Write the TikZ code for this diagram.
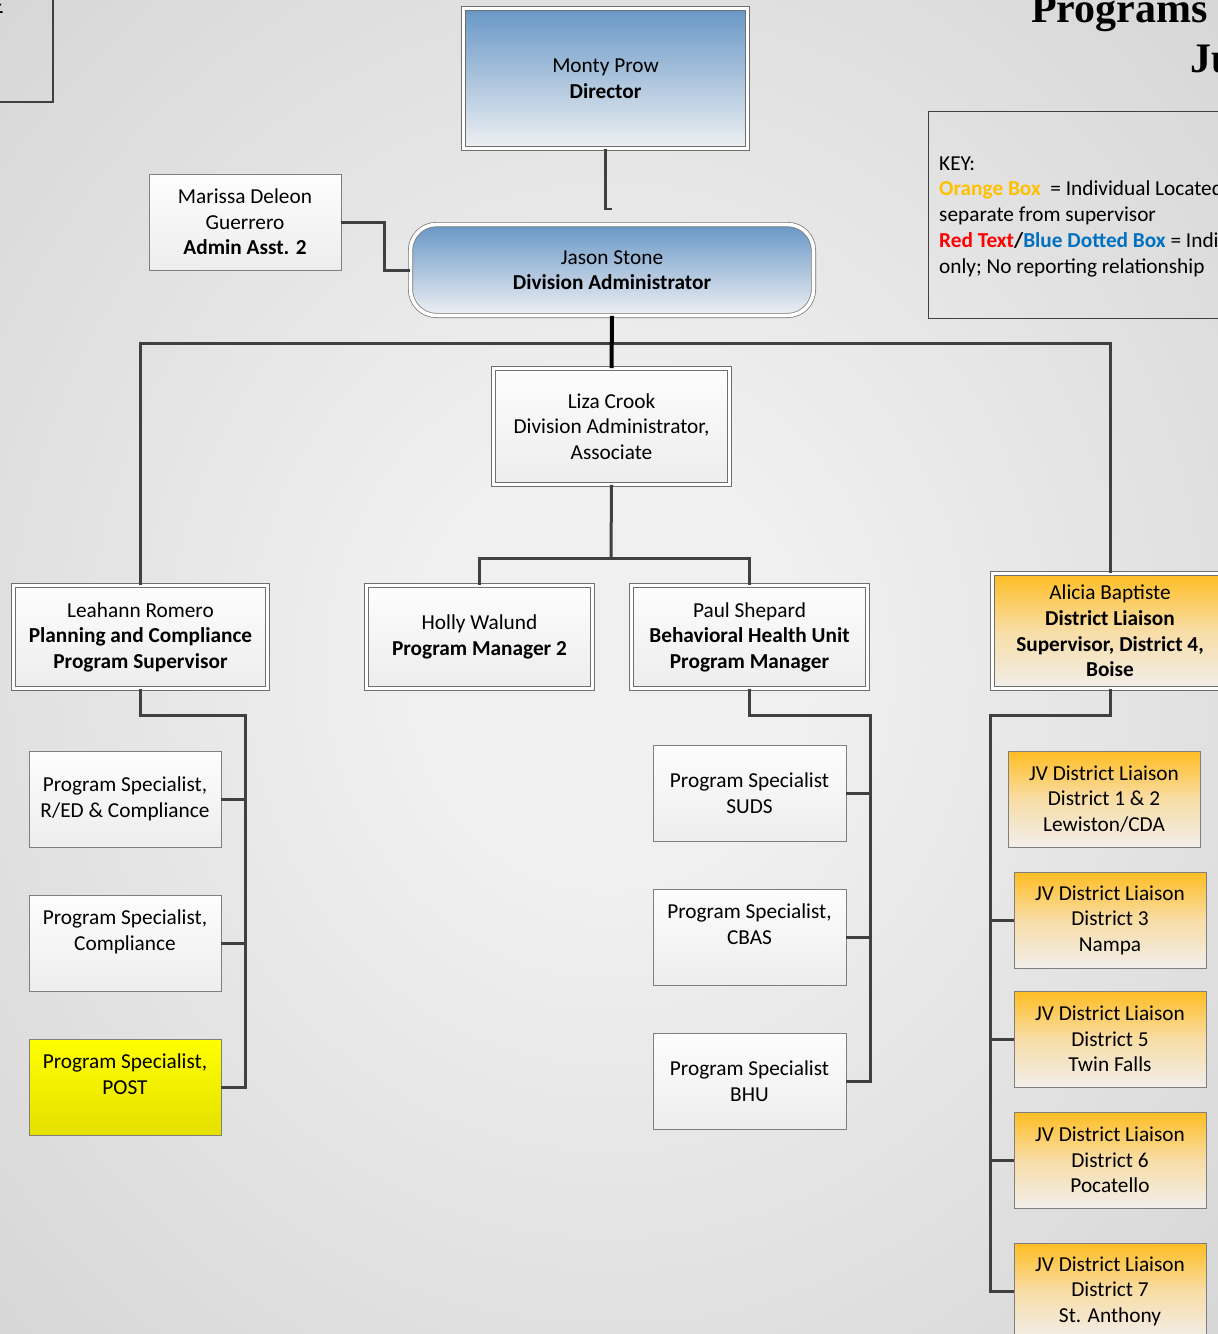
\documentclass[tikz,border=0pt]{standalone}
\usepackage{fontspec}
\setmainfont{Carlito}
\newfontfamily\titlefont{Liberation Serif}
\definecolor{bgin}{HTML}{F0F0F0}
\definecolor{bgout}{HTML}{C9C9C9}
\definecolor{linegray}{HTML}{404040}
\definecolor{boxline}{HTML}{7F7F7F}
\definecolor{framegray}{HTML}{6F6F6F}
\definecolor{bluetop}{HTML}{6897C6}
\definecolor{bluebot}{HTML}{EEF0F3}
\definecolor{whitetop}{HTML}{FDFDFD}
\definecolor{whitebot}{HTML}{EDEDED}
\definecolor{orangetop}{HTML}{FFBD22}
\definecolor{orangemid}{HTML}{F8DDA6}
\definecolor{orangebot}{HTML}{F1EEEA}
\definecolor{yellowtop}{HTML}{FFFF00}
\definecolor{yellowbot}{HTML}{E5E000}
\definecolor{keyorange}{HTML}{FFC000}
\definecolor{keyred}{HTML}{FF0000}
\definecolor{keyblue}{HTML}{0070C0}
\pgfdeclareradialshading{pagebg}{\pgfpoint{0bp}{0bp}}{color(0bp)=(bgin); color(8bp)=(bgin); color(50bp)=(bgout)}
\tikzset{
  txt/.style={font=\fontsize{21.3}{25.6}\selectfont, align=center, inner sep=0pt},
  dbl/.style={txt, draw=framegray, line width=0.7pt, double=white, double distance=3.6pt},
  bluebox/.style={dbl, top color=bluetop, bottom color=bluebot},
  framebox/.style={dbl, top color=whitetop, bottom color=whitebot},
  orangeframe/.style={dbl, top color=orangetop, bottom color=orangebot, middle color=orangemid},
  plainbox/.style={txt, draw=boxline, line width=0.9pt, top color=whitetop, bottom color=whitebot},
  orangebox/.style={txt, draw=boxline, line width=0.9pt, top color=orangetop, bottom color=orangebot, middle color=orangemid},
  yellowbox/.style={txt, draw=boxline, line width=0.9pt, top color=yellowtop, bottom color=yellowbot},
  childsize/.style={minimum width=192pt, minimum height=96pt},
  conn/.style={draw=linegray, line width=3pt},
}
\begin{document}
\begin{tikzpicture}[x=1pt, y=-1pt]
  \useasboundingbox (0,0) rectangle (1218,1334);
  \shade[shading=pagebg] (0,0) rectangle (1218,1334);
  \begin{scope}
    \clip (0,0) rectangle (1218,1334);

    % page heading and side frame, cut by the page edge
    \draw[linegray, line width=1.5pt] (-5,-5) rectangle (53,102);
    \node[anchor=base east, inner sep=0pt, font=\fontsize{26}{30}\selectfont] (cut) at (4,13) {E};
    \node[anchor=base east, inner sep=0pt, font=\titlefont\bfseries\fontsize{42}{50}\selectfont] (title1) at (1208,22) {Programs};
    \node[anchor=base west, inner sep=0pt, font=\titlefont\bfseries\fontsize{42}{50}\selectfont] (title2) at (1190,72) {Ju};

    % legend
    \draw[draw=linegray, line width=1pt] (928,111) rectangle (1240,318);
    \node[anchor=base west, inner sep=0pt, align=left, font=\fontsize{21.3}{25.7}\selectfont] (key) at (939,273)
      {KEY:\\
       {\color{keyorange}\bfseries Orange Box}\ \ = Individual Located\\
       separate from supervisor\\
       {\color{keyred}\bfseries Red Text}{\bfseries /}{\color{keyblue}\bfseries Blue Dotted Box} = Individual\\
       only; No reporting relationship};

    % leadership
    \node[bluebox, minimum width=284pt, minimum height=140pt] (dir) at (605.5,78.5)
      {Monty Prow\\\textbf{Director}};
    \node[bluebox, rounded corners=26pt, minimum width=403pt, minimum height=91pt] (jas) at (612,270)
      {Jason Stone\\\textbf{Division Administrator}};
    \node[plainbox, minimum width=192pt, minimum height=96pt] (mar) at (245,222)
      {Marissa Deleon\\Guerrero\\\textbf{Admin Asst. 2}};
    \node[framebox, minimum width=236pt, minimum height=116pt] (liz) at (611.5,426.5)
      {Liza Crook\\Division Administrator,\\Associate};

    % managers
    \node[framebox, minimum width=254pt, minimum height=103pt] (lea) at (140.5,637)
      {Leahann Romero\\\textbf{Planning and Compliance}\\\textbf{Program Supervisor}};
    \node[framebox, minimum width=226pt, minimum height=103pt] (hol) at (479.5,637)
      {Holly Walund\\\textbf{Program Manager 2}};
    \node[framebox, minimum width=236pt, minimum height=103pt] (pau) at (749.5,637)
      {Paul Shepard\\\textbf{Behavioral Health Unit}\\\textbf{Program Manager}};
    \node[orangeframe, minimum width=235pt, minimum height=115pt] (ali) at (1110,631)
      {Alicia Baptiste\\\textbf{District Liaison}\\\textbf{Supervisor, District 4,}\\\textbf{Boise}};

    % planning and compliance staff
    \node[plainbox, childsize] (red) at (125,799) {Program Specialist,\\R/ED \& Compliance};
    \node[plainbox, childsize] (cmp) at (125,943) {Program Specialist,\\Compliance\\\mbox{}};
    \node[yellowbox, childsize] (post) at (125,1087) {Program Specialist,\\POST\\\mbox{}};

    % behavioral health staff
    \node[plainbox, childsize, minimum width=193pt] (suds) at (749.5,793) {Program Specialist\\SUDS};
    \node[plainbox, childsize, minimum width=193pt] (cbas) at (749.5,937) {Program Specialist,\\CBAS\\\mbox{}};
    \node[plainbox, childsize, minimum width=193pt] (bhu) at (749.5,1081) {Program Specialist\\BHU};

    % district liaisons
    \node[orangebox, childsize] (d12) at (1104,799) {JV District Liaison\\District 1 \& 2\\Lewiston/CDA};
    \node[orangebox, childsize] (d3) at (1110,920) {JV District Liaison\\District 3\\Nampa};
    \node[orangebox, childsize] (d5) at (1110,1039) {JV District Liaison\\District 5\\Twin Falls};
    \node[orangebox, childsize] (d6) at (1110,1160) {JV District Liaison\\District 6\\Pocatello};
    \node[orangebox, childsize] (d7) at (1110,1291) {JV District Liaison\\District 7\\St. Anthony};

    % junction points
    \coordinate (bar) at (611,343);
    \coordinate (mid) at (611,558);
    \coordinate (lt) at (245,715);
    \coordinate (pt) at (870,715);
    \coordinate (at) at (990,715);

    % connectors
    \draw[draw=linegray, line width=2.5pt] (dir.south) -- ++(0,60) coordinate (dk) -- ++(6,0);
    \draw[conn] (mar.east) -- ++(43,0) |- (jas.west);
    \draw[conn] (lea.north) |- (bar) -| (ali.north);
    \draw[black, line width=4pt] (jas.south) -- (liz.north);
    \draw[conn] (liz.south) -- (mid);
    \draw[conn] (hol.north) |- (mid) -| (pau.north);

    \draw[conn] (lea.south) |- (lt) -- (lt |- post.east) -- (post.east);
    \draw[conn] (red.east) -- (red.east -| lt);
    \draw[conn] (cmp.east) -- (cmp.east -| lt);

    \draw[conn] (pau.south) |- (pt) -- (pt |- bhu.east) -- (bhu.east);
    \draw[conn] (suds.east) -- (suds.east -| pt);
    \draw[conn] (cbas.east) -- (cbas.east -| pt);

    \draw[conn] (ali.south) |- (at) -- (at |- d7.west) -- (d7.west);
    \draw[conn] (d3.west) -- (d3.west -| at);
    \draw[conn] (d5.west) -- (d5.west -| at);
    \draw[conn] (d6.west) -- (d6.west -| at);
  \end{scope}
\end{tikzpicture}
\end{document}
